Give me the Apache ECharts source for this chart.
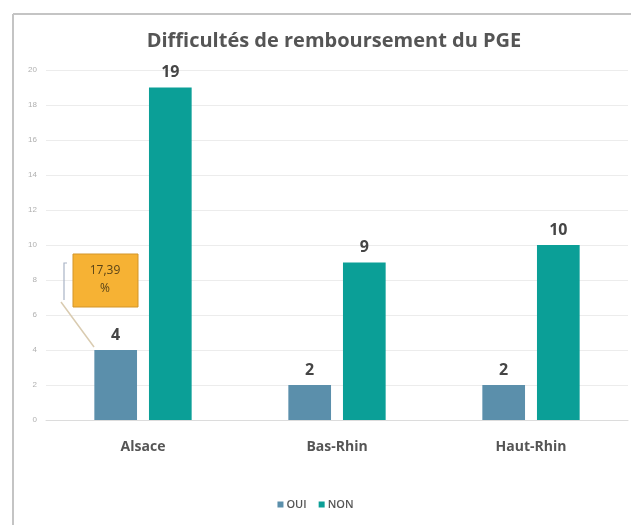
<!DOCTYPE html>
<html>
<head>
<meta charset="utf-8">
<script src="https://cdn.jsdelivr.net/npm/echarts@6/dist/echarts.min.js"></script>
<style>
  html, body { margin: 0; padding: 0; background: #fff; }
  #chart { width: 631px; height: 525px; }
</style>
</head>
<body>
<div id="chart"></div>
<script>
// données
const TITRE = 'Difficultés de remboursement du PGE';
const zones = ['Alsace', 'Bas-Rhin', 'Haut-Rhin'];
const oui = [4, 2, 2];
const non = [19, 9, 10];
const yTicks = [0, 2, 4, 6, 8, 10, 12, 14, 16, 18, 20];
const note = ['17,39', '%']; // part des OUI en Alsace

const COL = { oui: '#5b8fab', non: '#0b9f97', txt: '#555', grid: '#ececec', frame: '#c4c4c4' };

const chart = echarts.init(document.getElementById('chart'));

const valLabel = { show: true, position: 'top', distance: 7, fontSize: 16, fontWeight: 'bold', color: '#454545', fontFamily: 'Open Sans' };

chart.setOption({
  animation: false,
  title: {
    text: TITRE, left: 329, top: 26, textAlign: 'center',
    textStyle: { fontSize: 20, fontWeight: 'bold', color: COL.txt, fontFamily: 'Open Sans' }
  },
  legend: {
    data: ['OUI', 'NON'], bottom: 10, left: 'center',
    icon: 'rect', itemWidth: 6, itemHeight: 6, itemGap: 12,
    textStyle: { fontSize: 11, fontWeight: 600, color: COL.txt, fontFamily: 'Open Sans', padding: [0, 0, 0, -2] }
  },
  grid: { left: 46, right: 3, top: 70, bottom: 105 },
  xAxis: {
    type: 'category', data: zones,
    axisLine: { lineStyle: { color: '#dcdcdc' } }, axisTick: { show: false },
    axisLabel: { fontSize: 14, fontWeight: 'bold', color: COL.txt, margin: 20, fontFamily: 'Open Sans' }
  },
  yAxis: {
    type: 'value', min: yTicks[0], max: yTicks[yTicks.length - 1], interval: 2,
    axisLine: { show: false }, axisTick: { show: false },
    axisLabel: { fontSize: 8, color: '#b0b0b0', margin: 9 },
    splitLine: { lineStyle: { color: COL.grid } }
  },
  series: [
    { name: 'OUI', type: 'bar', data: oui, barWidth: '22%', barGap: '28%', itemStyle: { color: COL.oui }, label: valLabel },
    { name: 'NON', type: 'bar', data: non, barWidth: '22%', itemStyle: { color: COL.non }, label: valLabel }
  ]
});

// cadre + bulle d'annotation, placés depuis la barre OUI Alsace
const p = chart.convertToPixel({ gridIndex: 0 }, [zones[0], oui[0]]);
const bx = p[0] - 49; // bord gauche approx. de la barre OUI
const by = p[1];
chart.setOption({
  graphic: [
    { type: 'line', shape: { x1: 13, y1: 14, x2: 631, y2: 14 }, style: { stroke: COL.frame, lineWidth: 2 } },
    { type: 'line', shape: { x1: 13, y1: 14, x2: 13, y2: 525 }, style: { stroke: COL.frame, lineWidth: 2 } },
    { type: 'polyline', shape: { points: [[bx - 27, by - 87], [bx - 30, by - 87], [bx - 30, by - 50]] }, style: { stroke: '#a9b4c6', lineWidth: 1.2, fill: null } },
    { type: 'line', shape: { x1: bx - 33, y1: by - 48, x2: bx, y2: by - 3 }, style: { stroke: '#d9cbb0', lineWidth: 1.5 } },
    { type: 'rect', shape: { x: bx - 21, y: by - 96, width: 65, height: 53 }, style: { fill: '#f6b234', stroke: '#d39528', lineWidth: 1 } },
    { type: 'text', x: bx + 11, y: by - 70, style: { text: note.join('\n'), fontSize: 12, lineHeight: 18, fill: '#5a4418', align: 'center', verticalAlign: 'middle', fontFamily: 'Open Sans' } }
  ]
});
</script>
</body>
</html>
